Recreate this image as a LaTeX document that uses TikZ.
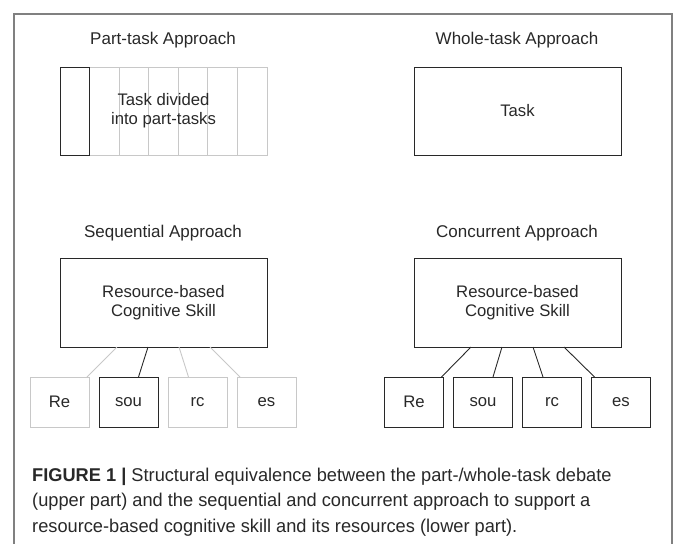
\documentclass[tikz,border=0pt]{standalone}
\usepackage{fontspec}
\setmainfont{Liberation Sans}
\newfontfamily\capfont[FakeStretch=0.985]{Liberation Sans}
\usetikzlibrary{positioning}
\usepackage{xcolor}

\definecolor{framegray}{RGB}{128,128,128}
\definecolor{palegray}{RGB}{200,200,200}
\definecolor{inkgray}{RGB}{40,40,40}

\tikzset{
  box/.style={draw=inkgray, line width=0.9pt, inner sep=0pt, outer sep=0pt,
    align=center, text=inkgray, font=\fontsize{16.7}{19}\selectfont},
  ghost/.style={box, draw=palegray},
  bigbox/.style={minimum width=207pt, minimum height=89pt},
  subbox/.style={minimum width=59pt, minimum height=50pt},
  heading/.style={anchor=base, text=inkgray, font=\fontsize{17}{20}\selectfont},
  link/.style={draw=inkgray, line width=0.9pt},
  ghostlink/.style={draw=palegray, line width=0.9pt}
}

\begin{document}
\begin{tikzpicture}[x=1pt, y=-1pt]
  \useasboundingbox (0,0) rectangle (673,544);
  % frame, open at the bottom
  \draw[framegray, line width=1.5pt] (14,560) -- (14,14) -- (672,14) -- (672,560);

  % upper part: part-task vs whole-task
  \node[heading] (parttitle) at (163,44) {Part-task Approach};
  \node[heading] (wholetitle) at (517,44) {Whole-task Approach};

  \foreach \i in {1,...,6}
    \node[ghost, minimum width=29.57pt, minimum height=88pt, anchor=north west]
      (cell\i) at (60+\i*29.57,67) {};
  \node[box, minimum width=29.57pt, minimum height=88pt, anchor=north west]
    (cell0) at (60,67) {};
  \node[align=center, text=inkgray, font=\fontsize{16.7}{19}\selectfont]
    (divided) at (163.5,111) {Task divided\\into part-tasks};

  \node[box, minimum width=207pt, minimum height=88pt] (task) at (517.5,111) {Task};

  % lower part: sequential vs concurrent
  \node[heading] (seqtitle) at (163,237) {Sequential Approach};
  \node[heading] (contitle) at (517,237) {Concurrent Approach};

  \node[box, bigbox] (seqskill) at (163.5,302.5) {Resource-based\\Cognitive Skill};
  \node[box, bigbox] (conskill) at (517.5,302.5) {Resource-based\\Cognitive Skill};

  % sequential: one resource at a time
  \node[ghost, subbox] (seqre) at (59.5,402) {Re};
  \node[box, subbox, right=10pt of seqre] (seqsou) {sou};
  \node[ghost, subbox, right=10pt of seqsou] (seqrc) {rc};
  \node[ghost, subbox, right=10pt of seqrc] (seqes) {es};

  \draw[ghostlink] ([xshift=-46.5pt]seqskill.south) -- ([xshift=-2pt]seqre.north east);
  \draw[link] ([xshift=-15.5pt]seqskill.south) -- ([xshift=10pt]seqsou.north);
  \draw[ghostlink] ([xshift=15.5pt]seqskill.south) -- ([xshift=-9pt]seqrc.north);
  \draw[ghostlink] ([xshift=46.5pt]seqskill.south) -- ([xshift=3pt]seqes.north west);

  % concurrent: all resources together
  \node[box, subbox] (conre) at (414,402) {Re};
  \node[box, subbox, right=10pt of conre] (consou) {sou};
  \node[box, subbox, right=10pt of consou] (conrc) {rc};
  \node[box, subbox, right=10pt of conrc] (cones) {es};

  \draw[link] ([xshift=-46.5pt]conskill.south) -- ([xshift=-2pt]conre.north east);
  \draw[link] ([xshift=-15.5pt]conskill.south) -- ([xshift=10pt]consou.north);
  \draw[link] ([xshift=15.5pt]conskill.south) -- ([xshift=-9pt]conrc.north);
  \draw[link] ([xshift=46.5pt]conskill.south) -- ([xshift=3pt]cones.north west);

  % caption (base anchor sits on the last line)
  \node[anchor=base west, align=left, inner sep=0pt, text=inkgray,
    font=\capfont\fontsize{18.5}{25.5}\selectfont] (caption) at (32,532)
    {\textbf{FIGURE 1 |} Structural equivalence between the part-/whole-task debate\\
     (upper part) and the sequential and concurrent approach to support a\\
     resource-based cognitive skill and its resources (lower part).};
\end{tikzpicture}
\end{document}
